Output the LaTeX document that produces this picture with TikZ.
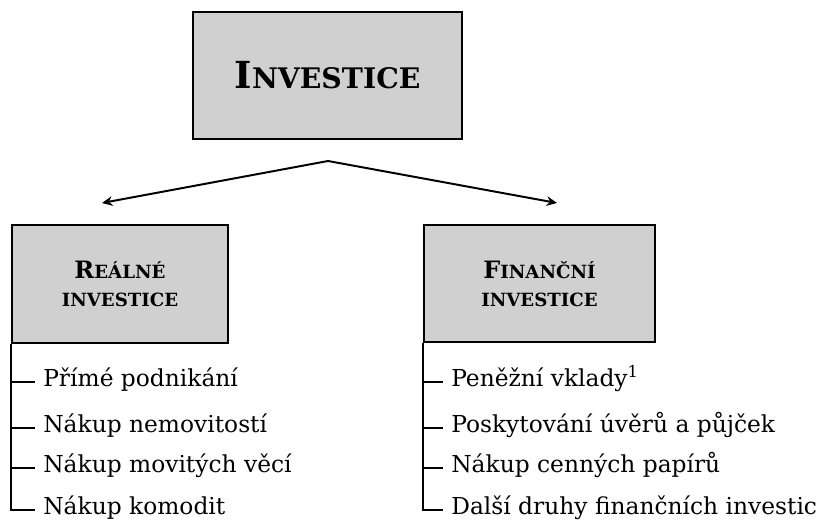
\documentclass[tikz,border=0pt]{standalone}
\usepackage{fontspec}
\setmainfont{DejaVu Serif}
\usetikzlibrary{arrows.meta,positioning,calc}
\definecolor{BoxGray}{HTML}{D0D0D0}
\newcommand{\smallcap}[1]{\scalebox{0.76}{#1}}

\begin{document}
\begin{tikzpicture}[
  x=0.025cm,y=-0.025cm,
  headbox/.style={
    draw=black,
    line width=1.5pt,
    fill=BoxGray,
    align=center,
    inner sep=0pt,
    font=\bfseries\fontsize{17}{20}\selectfont
  },
  branch/.style={
    -{Stealth[length=2.6mm,width=2.4mm]},
    line width=1.4pt
  },
  tree/.style={
    line width=0.9pt
  },
  item/.style={
    anchor=west,
    inner xsep=0.2cm,
    inner ysep=0pt,
    text height=1.2ex,
    text depth=0pt,
    font=\fontsize{16.6}{19}\selectfont
  }
]
\useasboundingbox (0,0) rectangle (824,523);

% -------------------------------------------------
% Top box
% -------------------------------------------------
\node[headbox, minimum width=6.725cm, minimum height=3.175cm,
  font=\bfseries\fontsize{26.5}{30}\selectfont] (inv) at (327.5,75.5)
  {I\smallcap{NVESTICE}};

\coordinate (split) at (328,161);
\coordinate (ltip) at (102,203);
\coordinate (rtip) at (557,203);

% -------------------------------------------------
% Two kinds
% -------------------------------------------------
\node[headbox, minimum width=5.4cm, minimum height=2.95cm] (real) at (120,284)
  {R\smallcap{EÁLNÉ}\\\smallcap{INVESTICE}};

\node[headbox, minimum width=5.775cm, minimum height=2.925cm] (fin) at (539.5,283.5)
  {F\smallcap{INANČNÍ}\\\smallcap{INVESTICE}};

\draw[branch] (split) -- (ltip);
\draw[branch] (split) -- (rtip);

% -------------------------------------------------
% Real investment list
% -------------------------------------------------
\node[item] (r1) at (35,382) {Přímé podnikání};
\node[item] (r2) at (35,428) {Nákup nemovitostí};
\node[item] (r3) at (35,468) {Nákup movitých věcí};
\node[item] (r4) at (35,510) {Nákup komodit};

\draw[tree] (real.south west) |- (r4.west);
\foreach \i in {1,2,3}
  \draw[tree] (real.south west |- r\i.west) -- (r\i.west);

% -------------------------------------------------
% Financial investment list
% -------------------------------------------------
\node[item] (f1) at (443,382) {Peněžní vklady\textsuperscript{1}};
\node[item] (f2) at (443,428) {Poskytování úvěrů a půjček};
\node[item] (f3) at (443,468) {Nákup cenných papírů};
\node[item] (f4) at (443,510) {Další druhy finančních investic};

\draw[tree] (fin.south west) |- (f4.west);
\foreach \i in {1,2,3}
  \draw[tree] (fin.south west |- f\i.west) -- (f\i.west);

\end{tikzpicture}
\end{document}
